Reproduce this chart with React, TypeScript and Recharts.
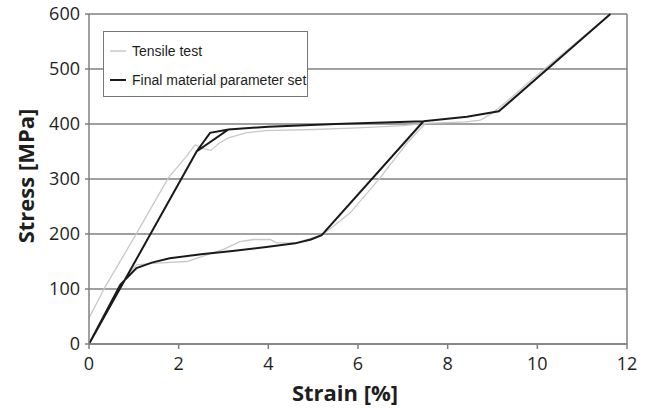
import React from "react"
import { LineChart, Line, XAxis, YAxis, CartesianGrid, Legend, ReferenceLine, Label } from "recharts"

// strain [%], stress [MPa]
const testLoading: Array<[number, number]> = [
  [0, 47], [0.36, 104], [1.06, 201], [1.77, 302], [2.14, 338], [2.37, 362], [2.55, 355],
  [2.72, 352], [2.9, 365], [3.11, 375], [3.5, 384], [3.93, 388], [5, 390], [6, 393],
  [7, 397], [7.5, 401], [8.4, 404], [8.73, 407], [9.0, 420], [9.32, 441], [10, 489], [11.63, 600],
]
const testUnloading: Array<[number, number]> = [
  [7.5, 401], [7.09, 365], [6.46, 299], [5.82, 238], [5.45, 214], [5.19, 198], [4.6, 184],
  [4.19, 184], [4.04, 190], [3.67, 190], [3.37, 186], [3.0, 172], [2.18, 150], [1.5, 147],
  [1.06, 144], [0.8, 118],
]
const fitFirstCycle: Array<[number, number]> = [
  [0, 0], [2.4, 350], [2.7, 384], [3.11, 390], [4, 395], [5.5, 400], [7.46, 405],
  [5.19, 198], [4.95, 190], [4.6, 183], [4, 177], [3.2, 169], [2.5, 163], [1.8, 156],
  [1.4, 148], [1.06, 138], [0.7, 108], [0, 0],
]
const fitReloading: Array<[number, number]> = [
  [0, 0], [2.4, 350], [3.11, 390], [4, 395], [5.5, 400], [7.46, 405], [8.43, 413],
  [9.14, 423], [11.63, 600],
]

const strainTicks = [0, 2, 4, 6, 8, 10, 12]
const stressTicks = [0, 100, 200, 300, 400, 500, 600]

const seriesNames = ["Tensile test", "Final material parameter set"]

const toPoints = (pairs: Array<[number, number] | null>) =>
  pairs.map((p) => (p ? { strain: p[0], stress: p[1] } : { strain: null, stress: null }))

const testData = toPoints([...testLoading, null, ...testUnloading])
const fitData = toPoints([...fitFirstCycle, ...fitReloading])

const GRID = "#808080"
const TEXT = "#1e1e1e"

function LegendBox() {
  const rows = [
    { name: seriesNames[0], color: "#c8c8c8", width: 1.5 },
    { name: seriesNames[1], color: "#1a1a1a", width: 2 },
  ]
  return (
    <div
      style={{
        border: "1px solid #777",
        background: "#fff",
        width: 203,
        height: 64,
        boxSizing: "content-box",
        position: "relative",
        fontFamily: "'Liberation Sans', Arial, sans-serif",
        fontSize: 14,
        color: TEXT,
      }}
    >
      {rows.map((r, i) => (
        <div key={r.name} style={{ position: "absolute", left: 6, top: 10 + i * 29, height: 18, display: "flex", alignItems: "center" }}>
          <svg width={16} height={4} style={{ marginRight: 6 }}>
            <line x1={0} x2={16} y1={2} y2={2} stroke={r.color} strokeWidth={r.width} />
          </svg>
          <span>{r.name}</span>
        </div>
      ))}
    </div>
  )
}

export default function App() {
  return (
    <div style={{ position: "absolute", left: 0, top: 0 }}>
      <LineChart width={650} height={408} margin={{ top: 14, right: 23, bottom: 0, left: 0 }}>
        <CartesianGrid vertical={false} stroke={GRID} strokeWidth={1.5} />
        <XAxis
          dataKey="strain"
          type="number"
          domain={[0, 12]}
          ticks={strainTicks}
          allowDuplicatedCategory={false}
          height={64}
          tickSize={5}
          tickMargin={8}
          stroke={GRID}
          strokeWidth={1.5}
          tick={{ fill: TEXT, fontSize: 18, fontFamily: "'Open Sans', sans-serif" }}
        >
          <Label
            content={({ viewBox }: any) => (
              <text
                x={viewBox.x + viewBox.width / 2 - 13}
                y={viewBox.y + viewBox.height - 7}
                textAnchor="middle"
                fill={TEXT}
                fontSize={22}
                fontWeight="bold"
                fontFamily="'Open Sans', sans-serif"
              >
                Strain [%]
              </text>
            )}
          />
        </XAxis>
        <YAxis
          type="number"
          domain={[0, 600]}
          ticks={stressTicks}
          width={89}
          tickSize={4}
          tickMargin={5}
          stroke={GRID}
          strokeWidth={1.5}
          tick={{ fill: TEXT, fontSize: 18, fontFamily: "'Open Sans', sans-serif" }}
        >
          <Label
            content={({ viewBox }: any) => {
              const cx = viewBox.x + 25
              const cy = viewBox.y + viewBox.height / 2 - 3
              return (
                <text
                  x={cx}
                  y={cy}
                  transform={`rotate(-90 ${cx} ${cy})`}
                  textAnchor="middle"
                  dominantBaseline="central"
                  fill={TEXT}
                  fontSize={22}
                  fontWeight="bold"
                  fontFamily="'Open Sans', sans-serif"
                >
                  Stress [MPa]
                </text>
              )
            }}
          />
        </YAxis>
        <ReferenceLine x={12} stroke={GRID} strokeWidth={1.5} />
        <Legend
          layout="vertical"
          align="center"
          verticalAlign="middle"
          content={() => <LegendBox />}
          wrapperStyle={{ left: 103, top: 31, width: 205, height: 66 }}
        />
        <Line
          name={seriesNames[0]}
          data={testData}
          dataKey="stress"
          stroke="#c8c8c8"
          strokeWidth={1.3}
          dot={false}
          activeDot={false}
          connectNulls={false}
          type="linear"
          isAnimationActive={false}
        />
        <Line
          name={seriesNames[1]}
          data={fitData}
          dataKey="stress"
          stroke="#1a1a1a"
          strokeWidth={2}
          dot={false}
          activeDot={false}
          type="linear"
          isAnimationActive={false}
        />
      </LineChart>
    </div>
  )
}
